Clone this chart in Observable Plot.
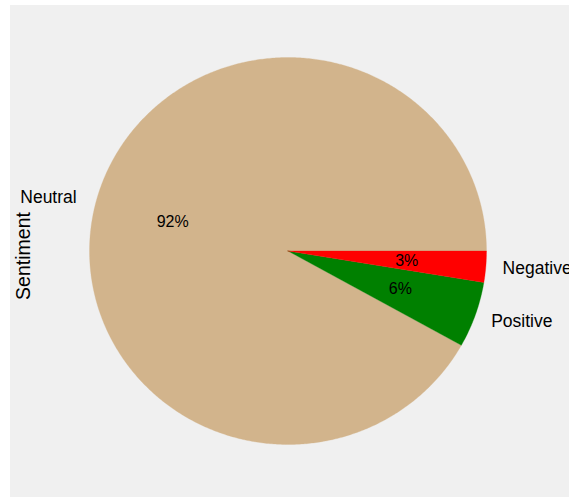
<!DOCTYPE html>
<html>
<head>
<meta charset="utf-8">
<script src="https://cdn.jsdelivr.net/npm/d3@7"></script>
<script src="https://cdn.jsdelivr.net/npm/@observablehq/plot@0.6"></script>
<style>
  html, body { margin: 0; padding: 0; background: #ffffff; overflow: hidden; width: 569px; height: 497px; }
  #chart { position: absolute; left: 10px; top: 5px; width: 559px; height: 492px; background: #f0f0f0; }
  #chart svg { background: #f0f0f0 !important; }
</style>
</head>
<body>
<div id="chart"></div>
<script>
const categories = ["Neutral", "Positive", "Negative"];
const values = [91.9, 5.5, 2.6];
const colors = ["#d2b48c", "#008000", "#ff0000"];
const axisLabel = "Sentiment";

const total = d3.sum(values);
const wedges = [];
let cum = 0;
categories.forEach((c, i) => {
  const t1 = cum / total * 2 * Math.PI;
  cum += values[i];
  const t2 = cum / total * 2 * Math.PI;
  wedges.push({category: c, value: values[i], color: colors[i], t1, t2, mid: (t1 + t2) / 2});
});

const polyPts = [];
wedges.forEach(w => {
  polyPts.push({x: 0, y: 0, k: w.category, color: w.color});
  const n = Math.max(4, Math.ceil((w.t2 - w.t1) / (Math.PI / 360)));
  for (let j = 0; j <= n; j++) {
    const a = w.t1 + (w.t2 - w.t1) * j / n;
    polyPts.push({x: Math.cos(a), y: Math.sin(a), k: w.category, color: w.color});
  }
  polyPts.push({x: 0, y: 0, k: w.category, color: w.color});
});

const labels = wedges.map(w => ({
  x: 1.1 * Math.cos(w.mid), y: 1.1 * Math.sin(w.mid),
  text: w.category, anchor: Math.cos(w.mid) < 0 ? "end" : "start"
}));
const pcts = wedges.map(w => ({
  x: 0.6 * Math.cos(w.mid), y: 0.6 * Math.sin(w.mid),
  text: Math.round(w.value / total * 100) + "%"
}));

const plot = Plot.plot({
  width: 559,
  height: 492,
  marginLeft: 79,
  marginRight: 83,
  marginTop: 52,
  marginBottom: 53,
  style: {background: "#f0f0f0", fontFamily: "'Liberation Sans', Arial, sans-serif", overflow: "visible"},
  x: {domain: [-1, 1], axis: null},
  y: {domain: [-1, 1], axis: null},
  marks: [
    Plot.line(polyPts, {x: "x", y: "y", z: "k", fill: "color", stroke: "color", strokeWidth: 0.3, curve: "linear"}),
    Plot.text(labels.filter(d => d.anchor === "end"), {x: "x", y: "y", text: "text", textAnchor: "end", fontSize: 17.5, fill: "#000"}),
    Plot.text(labels.filter(d => d.anchor === "start"), {x: "x", y: "y", text: "text", textAnchor: "start", dx: -3, fontSize: 17.5, fill: "#000"}),
    Plot.text(pcts, {x: "x", y: "y", text: "text", fontSize: 16, fill: "#000"}),
    Plot.text([axisLabel], {frameAnchor: "left", textAnchor: "middle", rotate: -90, dx: -66, dy: 5, fontSize: 19.5, fill: "#000"})
  ]
});
document.getElementById("chart").appendChild(plot);
</script>
</body>
</html>
